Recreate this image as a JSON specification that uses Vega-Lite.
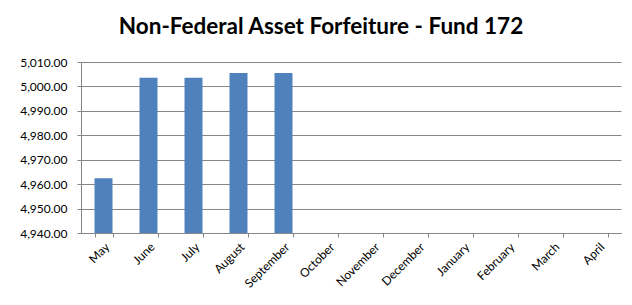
{
  "$schema": "https://vega.github.io/schema/vega-lite/v6.json",
  "width": 540,
  "height": 171,
  "autosize": {"type": "none"},
  "padding": {"left": 81, "top": 62, "right": 10, "bottom": 72},
  "background": "white",
  "title": {
    "text": "Non-Federal Asset Forfeiture - Fund 172",
    "font": "Lato",
    "fontSize": 22.5,
    "fontWeight": "bold",
    "color": "#000000",
    "anchor": "middle",
    "dx": -30,
    "offset": 18
  },
  "data": {
    "values": [
      {"month": "May", "value": 4962.4},
      {"month": "June", "value": 5003.6},
      {"month": "July", "value": 5003.6},
      {"month": "August", "value": 5005.5},
      {"month": "September", "value": 5005.5}
    ]
  },
  "mark": {"type": "bar", "color": "#4F81BD", "clip": true},
  "encoding": {
    "x": {
      "field": "month",
      "type": "nominal",
      "sort": null,
      "scale": {
        "domain": ["May", "June", "July", "August", "September", "October", "November", "December", "January", "February", "March", "April"],
        "paddingInner": 0.6,
        "paddingOuter": 0.3
      },
      "axis": {
        "title": null,
        "labelAngle": -45,
        "labelAlign": "right",
        "labelBaseline": "top",
        "labelFont": "Lato",
        "labelFontSize": 12,
        "labelColor": "#000000",
        "domainColor": "#868686",
        "tickColor": "#868686",
        "tickBand": "extent",
        "tickSize": 4,
        "labelPadding": 4,
        "grid": false
      }
    },
    "y": {
      "field": "value",
      "type": "quantitative",
      "scale": {"domain": [4940, 5010], "zero": false, "nice": false},
      "axis": {
        "title": null,
        "values": [4940, 4950, 4960, 4970, 4980, 4990, 5000, 5010],
        "format": ",.2f",
        "labelFont": "Lato",
        "labelFontSize": 12,
        "labelColor": "#000000",
        "domainColor": "#868686",
        "tickColor": "#868686",
        "tickSize": 4,
        "labelPadding": 10,
        "grid": true,
        "gridColor": "#868686",
        "gridWidth": 1
      }
    }
  },
  "config": {"view": {"stroke": null}}
}
